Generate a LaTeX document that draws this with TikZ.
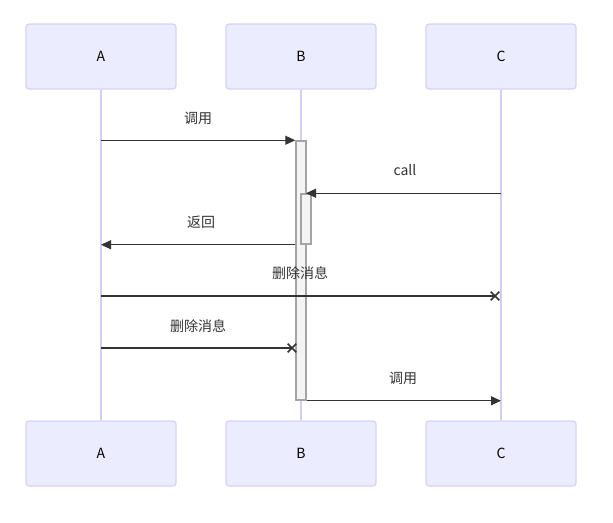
\documentclass[tikz,border=0pt]{standalone}
\usepackage{fontspec}
\setmainfont{Noto Sans CJK SC}
\usepackage{xcolor}
\usepackage{tikz}
\usetikzlibrary{arrows.meta,positioning,calc,shapes.misc}
\definecolor{actorfill}{HTML}{ECECFF}
\definecolor{actorline}{HTML}{D8D1F6}
\definecolor{lifeline}{HTML}{D6CEF2}
\definecolor{actfill}{HTML}{F4F4F4}
\definecolor{actline}{HTML}{A4A4A4}
\definecolor{msgline}{HTML}{333333}
\tikzset{
	actor/.style={draw=actorline, fill=actorfill, rounded corners=3pt, line width=1.2pt, minimum width=150pt, minimum height=65pt, align=center, font=\fontsize{14}{16}\selectfont, text=black},
	life/.style={draw=lifeline, line width=1.2pt},
	activation/.style={draw=actline, fill=actfill, line width=1.5pt, minimum width=10pt, inner sep=0pt},
	msg/.style={-{Triangle[length=10pt, width=9pt]}, draw=msgline, line width=1.1pt},
	lostmsg/.style={draw=msgline, line width=1.1pt},
	crossmark/.style={cross out, draw=msgline, line width=1.6pt, minimum size=7pt, inner sep=0pt},
	msglabel/.style={font=\fontsize{14}{16}\selectfont, text=msgline, inner sep=0pt}
}
\begin{document}
\begin{tikzpicture}[x=1pt, y=-1pt]
			\useasboundingbox (0,0) rectangle (613,522);
			% participants
			\node[actor] (aTop) at (101,56.5) {A};
			\node[actor] (bTop) at (301,56.5) {B};
			\node[actor] (cTop) at (501,56.5) {C};
			\node[actor] (aBot) at (101,453.5) {A};
			\node[actor] (bBot) at (301,453.5) {B};
			\node[actor] (cBot) at (501,453.5) {C};
			
			\draw[life] (aTop) -- (aBot);
			\draw[life] (bTop) -- (bBot);
			\draw[life] (cTop) -- (cBot);
			
			% activations
			\node[activation, minimum height=259pt] (act1) at (301,270.5) {};
			\node[activation, minimum height=50pt] (act2) at (306,219) {};
			
			% messages
			\coordinate (a1) at (aTop.south |- act1.north);
			\draw[msg] (a1) -- (act1.north west);
			\node[msglabel] (l1) at (198,118) {调用};
			
			\coordinate (c2) at (cTop.south |- act2.north);
			\coordinate (b2) at ($(act2.north west)!0.5!(act2.north east)$);
			\draw[msg] (c2) -- (b2);
			\node[msglabel] (l2) at (405,170) {call};
			
			\coordinate (b3) at (act1.west |- act2.south);
			\coordinate (a3) at (aTop.south |- act2.south);
			\draw[msg] (b3) -- (a3);
			\node[msglabel] (l3) at (201,222) {返回};
			
			\coordinate (a4) at (101,296);
			\node[crossmark] (x4) at (495,296) {};
			\draw[lostmsg] (a4) -- (x4.center);
			\node[msglabel] (l4) at (300,273) {删除消息};
			
			\coordinate (a5) at (101,348);
			\node[crossmark] (x5) at (292,348) {};
			\draw[lostmsg] (a5) -- (x5.center);
			\node[msglabel] (l5) at (198,326) {删除消息};
			
			\coordinate (c6) at (cTop.south |- act1.south);
			\draw[msg] (act1.south east) -- (c6);
			\node[msglabel] (l6) at (403,378) {调用};
		\end{tikzpicture}
\end{document}
